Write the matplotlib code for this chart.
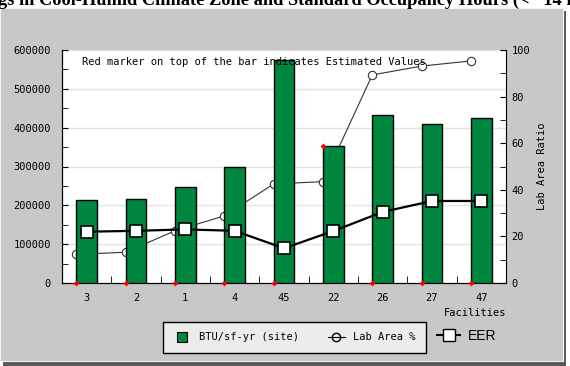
import matplotlib
matplotlib.use('Agg')
import matplotlib.pyplot as plt
from matplotlib.lines import Line2D
from matplotlib.patches import Rectangle
import numpy as np

facilities = ['3', '2', '1', '4', '45', '22', '26', '27', '47']
btu_site = [213000, 215500, 248000, 298000, 574000, 353000, 432000, 409000, 425000]
lab_area_pct = [12.3, 13.2, 22.4, 28.8, 42.5, 43.5, 89.3, 93.1, 95.3]
eer = [22.0, 22.4, 23.0, 22.4, 14.9, 22.3, 30.5, 35.2, 35.2]
estimated_marker = [0, 0, 0, 0, 0, 353000, 0, 0, 0]

mono = 'DejaVu Sans Mono'
green = '#00873f'

fig = plt.figure(figsize=(5.7, 3.66), dpi=100, facecolor='white')
W, H = 570.0, 366.0

# grey panel with a dark shadow on the right and bottom
fig.patches.append(Rectangle((3 / W, 1 - 366 / H), 563 / W, (366 - 11) / H,
                             transform=fig.transFigure, facecolor='#5a5a5a', edgecolor='none', zorder=-10))
fig.patches.append(Rectangle((0, 1 - 361 / H), 563 / W, (361 - 8) / H,
                             transform=fig.transFigure, facecolor='#c8c8c8', edgecolor='#f4f4f4',
                             linewidth=0.8, zorder=-9))

# title is cropped by the top edge in the reference
fig.text(-2 / W, 1 - 5 / H, 'gs in Cool-Humid Climate Zone and Standard Occupancy Hours (<   14 hrs)',
         family='Liberation Serif', weight='bold', fontsize=13.2, ha='left', va='baseline')

ax = fig.add_axes([62 / W, 1 - 283 / H, 444 / W, 233 / H])
x = np.arange(len(facilities)) + 0.5
bw = 0.42

ax2 = ax.twinx()
ax.set_zorder(2)
ax2.set_zorder(1)
ax.patch.set_visible(False)
ax2.patch.set_visible(True)
ax2.patch.set_facecolor('white')

ax.bar(x, btu_site, width=bw, color=green, edgecolor='black', linewidth=1, zorder=3)
ax.set_xlim(0, len(facilities))
ax.set_ylim(0, 600000)
ax.set_yticks(range(0, 600001, 100000))
ax.set_yticks(range(0, 600001, 50000), minor=True)
ax.set_xticks(x)
ax.set_xticklabels(facilities)
ax.set_xticks(np.arange(1, len(facilities)), minor=True)
ax.tick_params(axis='y', which='both', direction='in', length=4, pad=8, labelsize=7.5)
ax.tick_params(axis='x', which='major', length=0, pad=7, labelsize=7.5)
ax.tick_params(axis='x', which='minor', direction='in', length=5)
ax.spines['top'].set_visible(False)
ax.spines['right'].set_visible(False)
for lab in ax.get_xticklabels() + ax.get_yticklabels():
    lab.set_family(mono)
ax.set_xlabel('Facilities', loc='right', family=mono, fontsize=7.5, labelpad=4)

# red markers for estimated values, at the left edge of each bar
ax.plot(x - bw / 2, estimated_marker, ls='none', marker='D', ms=3, color='red',
        markeredgewidth=0, zorder=5, clip_on=False)

ax.text(20 / 444, 0.948, 'Red marker on top of the bar indicates Estimated Values',
        transform=ax.transAxes, family=mono, fontsize=7.5, va='center', ha='left', zorder=6)

ax.plot(x, [v * 6000 for v in eer], color='black', lw=1.6, marker='s', ms=8.5,
        mfc='white', mec='black', mew=1.2, zorder=4)

ax2.set_ylim(0, 100)
ax2.set_yticks(range(0, 101, 20))
ax2.set_yticks(range(0, 101, 10), minor=True)
ax2.tick_params(axis='y', which='both', direction='in', length=4, pad=4, labelsize=7.5)
for lab in ax2.get_yticklabels():
    lab.set_family(mono)
ax2.spines['top'].set_visible(False)
ax2.set_ylabel('Lab Area Ratio', family=mono, fontsize=7.5, labelpad=5)

# grid of the left axis, drawn on the back axes so it stays behind everything
for v in range(100000, 600001, 100000):
    ax2.axhline(v / 6000, color='#e2e2e2', lw=1, zorder=0)
# lab area line sits behind the bars
ax2.plot(x - bw / 2, lab_area_pct, color='#333333', lw=0.8, marker='o', ms=6,
         mfc='white', mec='#333333', mew=0.8, zorder=2, clip_on=False)

h1 = Line2D([], [], ls='none', marker='s', ms=7, color=green, mec='black', mew=0.8)
h2 = Line2D([], [], color='black', lw=0.8, marker='o', ms=6, mfc='none', mec='black')
leg = fig.legend([h1, h2], ['BTU/sf-yr (site)', 'Lab Area %'], ncol=2,
                 loc='center', bbox_to_anchor=(294.5 / W, 1 - 337.5 / H),
                 prop={'family': mono, 'size': 7.5}, frameon=True, fancybox=False,
                 edgecolor='black', facecolor='#ececec', framealpha=1,
                 handlelength=1.6, columnspacing=2.8, borderpad=1.0, handletextpad=0.8)
leg.get_frame().set_linewidth(1)

h3 = Line2D([], [], color='black', lw=1.5, marker='s', ms=8, mfc='white', mec='black')
leg2 = fig.legend([h3], ['EER'], loc='center', bbox_to_anchor=(467 / W, 1 - 336 / H),
                  prop={'family': 'Liberation Sans', 'size': 10}, frameon=False,
                  handlelength=1.6, handletextpad=0.6)

fig.savefig('out.png', dpi=100)
